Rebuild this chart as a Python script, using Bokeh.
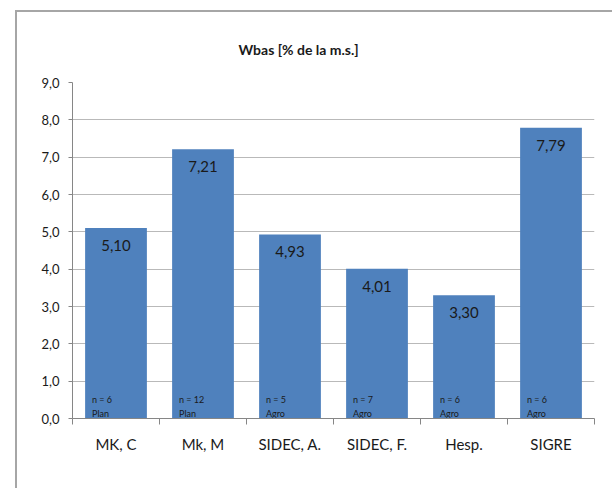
from bokeh.plotting import figure
from bokeh.models import FixedTicker, Range1d, ColumnDataSource
from bokeh.embed import file_html
from bokeh.resources import INLINE
from bokeh.core.properties import value

# ---- data ----
categories = ["MK, C", "Mk, M", "SIDEC, A.", "SIDEC, F.", "Hesp.", "SIGRE"]
values = [5.10, 7.21, 4.93, 4.01, 3.30, 7.79]
n_counts = [6, 12, 5, 7, 6, 6]
groups = ["Plan", "Plan", "Agro", "Agro", "Agro", "Agro"]
y_ticks = [0, 1, 2, 3, 4, 5, 6, 7, 8, 9]
title_text = "Wbas [% de la m.s.]"

FONT = "Lato"
BAR = "#4F81BD"
AXIS = "#868686"
GRID = "#B9B9B9"
TXT = "#1a1a1a"

xs = [i + 0.5 for i in range(len(categories))]
bounds = list(range(len(categories) + 1))
src = ColumnDataSource(dict(
    x=xs, top=values,
    label=[f"{v:.2f}".replace(".", ",") for v in values],
    n=[f"n = {n}" for n in n_counts],
    g=groups,
    zero=[0] * len(values),
))

p = figure(width=597, height=478,
           x_range=Range1d(0, len(categories)), y_range=Range1d(0, max(y_ticks)),
           output_backend="svg", toolbar_location=None,
           min_border_left=55, min_border_right=20, min_border_top=70, min_border_bottom=72)
p.margin = (10, 0, 0, 15)
p.styles = {"border-left": "2px solid #A6A6A6", "border-top": "2px solid #A6A6A6"}
p.outline_line_color = None
p.background_fill_color = "white"
p.border_fill_color = "white"

p.title.text = title_text
p.title.text_font = FONT
p.title.text_font_size = "14px"
p.title.text_font_style = "bold"
p.title.text_color = TXT
p.title.align = "left"
p.title.offset = 166
p.title.standoff = 49

p.vbar(x="x", top="top", width=0.71, source=src, fill_color=BAR, line_color=None)

p.text(x="x", y="top", text="label", source=src, text_align="center", text_baseline="top",
       y_offset=12, text_font=value(FONT), text_font_size="15px", text_color=TXT)
p.text(x="x", y="zero", text="n", source=src, text_align="left", text_baseline="alphabetic",
       x_offset=-24, y_offset=-19, text_font=value(FONT), text_font_size="9px", text_color=TXT)
p.text(x="x", y="zero", text="g", source=src, text_align="left", text_baseline="alphabetic",
       x_offset=-24, y_offset=-5, text_font=value(FONT), text_font_size="9px", text_color=TXT)

# grid
p.xgrid.visible = False
p.ygrid.ticker = FixedTicker(ticks=y_ticks)
p.ygrid.grid_line_color = GRID

# y axis
p.yaxis.ticker = FixedTicker(ticks=y_ticks)
p.yaxis.major_label_overrides = {t: f"{t},0" for t in y_ticks}
p.yaxis.major_tick_in = 0
p.yaxis.major_tick_out = 4
p.yaxis.minor_tick_line_color = None
p.yaxis.axis_line_color = AXIS
p.yaxis.major_tick_line_color = AXIS
p.yaxis.major_label_text_font = FONT
p.yaxis.major_label_text_font_size = "13px"
p.yaxis.major_label_text_color = TXT
p.yaxis.major_label_standoff = 9

# x axis: labels at centers, ticks at boundaries
p.xaxis.ticker = FixedTicker(ticks=xs, minor_ticks=bounds)
p.xaxis.major_label_overrides = {x: c for x, c in zip(xs, categories)}
p.xaxis.major_tick_line_color = None
p.xaxis.major_tick_in = 0
p.xaxis.major_tick_out = 0
p.xaxis.minor_tick_in = 0
p.xaxis.minor_tick_out = 6
p.xaxis.minor_tick_line_color = AXIS
p.xaxis.axis_line_color = AXIS
p.xaxis.major_label_text_font = FONT
p.xaxis.major_label_text_font_size = "15px"
p.xaxis.major_label_text_color = TXT
p.xaxis.major_label_standoff = 10

open("out.html", "w").write(file_html(p, INLINE))
